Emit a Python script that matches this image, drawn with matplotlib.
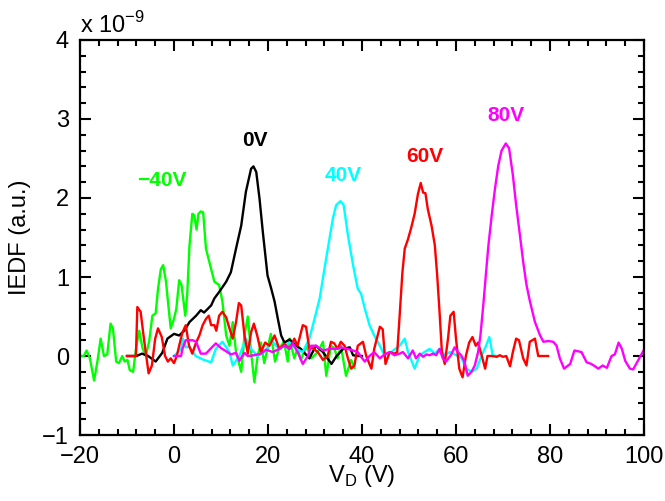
import numpy as np
import matplotlib.pyplot as plt
from matplotlib.ticker import MultipleLocator

plt.rcParams['font.family'] = ['Liberation Sans', 'DejaVu Sans']
plt.rcParams['mathtext.fontset'] = 'custom'
plt.rcParams['mathtext.rm'] = 'Liberation Sans'

# IEDF curves, y in units of 1e-9
x_m40 = [-20, -19.2, -18.6, -17.9, -17.0, -16.3, -15.6, -14.9, -14.2, -13.5, -13.0, -12.3, -11.7, -11.0,
         -10.5, -9.9, -9.4, -8.7, -8.0, -7.4, -6.7, -6.0, -5.3, -4.6, -3.9, -3.4, -2.8, -2.3, -1.7, -1.2,
         -0.7, 0.0, 0.5, 1.1, 1.6, 2.4, 2.8, 3.3, 3.9, 4.3, 4.8, 5.2, 5.7, 6.2, 6.8, 7.9, 8.6, 9.6, 10.3,
         11.1, 11.8, 12.5, 13.2, 14.3, 15.0, 15.7, 16.4, 17.1, 17.8, 18.5, 19.2, 20.6, 21.5, 22.4, 23.4,
         24.2, 24.6, 25.6, 26.3, 27.0, 28.2, 29.2, 30.6, 31.7, 32.4, 33.4, 34.1, 34.8, 35.5, 36.6, 37.7, 38.4]
y_m40 = [0, 0, 0.07, -0.03, -0.31, -0.07, 0.22, 0, 0.02, 0.41, 0.35, -0.07, -0.09, 0, -0.07, -0.05,
         -0.18, -0.2, 0.13, 0.32, 0.1, 0, 0.18, 0.51, 0.54, 0.85, 1.1, 1.15, 0.94, 0.64, 0.35, 0.47, 0.6,
         0.96, 0.9, 0.51, 0.77, 1.4, 1.8, 1.78, 1.6, 1.8, 1.83, 1.82, 1.36, 1.1, 0.94, 0.9, 0.69, 0.26,
         0.13, 0.43, 0.05, -0.2, 0.26, 0.5, 0.05, -0.33, 0.0, 0.17, -0.09, 0.28, -0.07, 0.1, 0.18, -0.07,
         0.22, -0.03, 0.1, -0.05, 0.13, -0.03, 0.05, 0.18, -0.25, 0.13, 0.1, -0.03, 0.13, -0.25, -0.05, -0.15]

x_0 = [-10, -8.0, -6.8, -5.5, -3.9, -2.5, -1.4, 0.0, 1.1, 2.2, 3.3, 4.7, 5.7, 6.4, 7.9, 8.6, 9.6, 11.1,
       12.1, 13.2, 14.3, 15.3, 16.4, 16.9, 17.5, 18.2, 18.9, 19.9, 20.7, 21.4, 22.1, 22.8, 23.5, 24.6,
       26.0, 27.0, 28.8, 30.2, 31.7, 33.5, 34.6, 36.0, 37.4, 38.1, 39.1, 40]
y_0 = [0, 0, 0.03, 0.0, -0.07, 0.04, 0.22, 0.28, 0.26, 0.32, 0.43, 0.51, 0.58, 0.55, 0.64, 0.73, 0.81,
       0.94, 1.06, 1.36, 1.65, 2.08, 2.37, 2.4, 2.33, 1.99, 1.57, 1.02, 0.85, 0.69, 0.47, 0.26, 0.17,
       0.21, 0.13, 0.09, -0.03, 0.13, 0.05, -0.1, 0.0, 0.09, 0.11, 0.01, 0.0, 0.0]

x_40 = [0, 1.5, 1.9, 2.5, 3.3, 4.6, 6.4, 7.9, 8.9, 10.3, 11.8, 12.5, 13.9, 15.3, 16.4, 17.8, 19.2, 21.0,
        22.4, 24.6, 26.0, 27.4, 28.8, 29.9, 31.0, 32.0, 33.1, 33.8, 34.5, 35.4, 36.1, 37.0, 38.1, 39.1,
        39.8, 40.6, 41.6, 42.6, 43.8, 44.8, 46.2, 48.0, 49.1, 49.8, 51.2, 52.3, 53.3, 54.4, 55.5, 56.5,
        57.6, 58.7, 60.1, 61.2, 62.2, 63.3, 64.4, 65.5, 66.4, 67.1, 67.8, 68.6]
y_40 = [0, 0.09, 0.22, 0.11, 0.12, 0.0, -0.05, -0.08, 0.09, 0.18, 0.05, -0.12, 0.0, 0.22, 0.09, 0.0,
        0.05, 0.18, 0.09, 0.17, 0.09, 0.05, 0.22, 0.47, 0.73, 1.1, 1.49, 1.74, 1.91, 1.96, 1.91, 1.53,
        1.15, 0.85, 0.79, 0.6, 0.39, 0.26, 0.13, 0.01, 0.05, 0.13, 0.22, 0.05, -0.16, 0.01, 0.05, 0.09,
        0.03, 0.09, 0.01, 0.05, 0.01, -0.03, -0.16, -0.2, -0.16, 0.01, 0.13, 0.24, 0.01, 0.0]

x_60 = [-10, -8.1, -7.8, -7.1, -6.4, -5.4, -4.7, -4.0, -3.4, -2.6, -1.9, -1.3, -0.7, 0.0, 0.6, 1.1, 1.8,
        2.5, 3.2, 3.9, 4.7, 5.4, 6.1, 6.8, 7.4, 7.9, 8.6, 9.0, 9.6, 10.3, 11.1, 11.8, 12.5, 13.2, 13.8,
        14.3, 15.0, 15.7, 16.4, 17.0, 17.7, 18.5, 19.4, 20.3, 21.4, 22.4, 23.5, 24.6, 25.6, 26.3, 27.4,
        28.1, 28.8, 29.5, 30.6, 31.7, 32.7, 33.4, 34.1, 34.8, 35.5, 36.3, 37.0, 37.7, 38.4, 39.1, 40.2,
        40.9, 42.0, 42.6, 43.8, 44.4, 45.0, 45.9, 46.9, 47.5, 48.0, 48.6, 49.1, 49.8, 50.5, 51.2, 51.9,
        52.5, 53.0, 53.5, 54.0, 54.8, 55.5, 56.0, 56.5, 57.0, 57.6, 58.3, 58.8, 59.5, 60.0, 60.7, 61.4,
        62.1, 62.8, 63.5, 64.2, 64.7, 65.5, 66.2, 66.7, 67.6, 68.7, 69.3, 70.0, 70.7, 71.5, 72.1, 72.8,
        73.4, 74.3, 75.0, 75.7, 76.8, 77.5, 79.6]
y_60 = [0, 0, 0.62, 0.56, 0.22, -0.22, -0.12, 0.22, 0.35, 0.24, 0.0, -0.07, -0.03, -0.09, 0.0, 0.13,
        0.3, 0.39, 0.13, 0.03, 0.17, 0.26, 0.39, 0.47, 0.51, 0.39, 0.39, 0.32, 0.51, 0.56, 0.49, 0.35,
        0.22, 0.43, 0.67, 0.64, 0.26, 0.03, 0.3, 0.41, 0.26, 0.05, 0.17, 0.13, 0.26, 0.09, 0.15, 0.09,
        0.22, 0.13, 0.39, 0.37, 0.09, 0.1, 0.05, -0.05, 0.0, 0.18, 0.16, 0.09, 0.18, 0.13, -0.03, -0.16,
        -0.12, 0.13, 0.18, 0.0, -0.16, 0.09, 0.37, 0.34, -0.1, 0.05, 0.03, 0.05, 0.5, 1.06, 1.36, 1.48,
        1.63, 1.8, 2.05, 2.19, 2.07, 2.06, 1.86, 1.65, 1.4, 1.02, 0.56, 0.05, -0.1, 0.22, 0.51, 0.56,
        0.22, -0.16, -0.27, 0.0, 0.17, 0.24, 0.13, 0.17, 0.0, -0.16, 0.0, 0.0, -0.01, 0.01, -0.01, 0.0,
        -0.13, 0.05, 0.22, 0.2, -0.03, -0.12, 0.18, 0.22, 0.0, 0.0]

x_80 = [0, 1.5, 1.8, 2.5, 4.0, 4.7, 5.7, 6.8, 7.9, 8.9, 10.0, 11.1, 12.1, 13.2, 13.9, 15.0, 15.7, 17.1,
        18.5, 19.6, 21.0, 22.4, 23.5, 24.6, 25.3, 26.3, 27.4, 28.5, 29.2, 30.2, 31.7, 33.1, 34.5, 35.5,
        37.0, 38.1, 39.1, 39.8, 40.6, 41.6, 42.6, 43.8, 44.8, 45.9, 46.9, 48.0, 48.7, 49.8, 50.8, 51.5,
        52.3, 53.0, 53.7, 54.4, 55.1, 55.8, 56.5, 57.2, 57.9, 59.0, 59.7, 60.4, 61.1, 61.8, 62.5, 63.3,
        64.0, 64.7, 65.2, 65.8, 66.4, 66.9, 67.6, 68.3, 69.0, 69.7, 70.6, 71.3, 72.1, 72.8, 73.6, 74.3,
        75.0, 75.7, 76.8, 77.9, 78.6, 79.6, 80.7, 81.4, 82.1, 83.0, 84.3, 85.2, 86.7, 87.8, 88.8, 90.3,
        91.2, 92.1, 93.1, 93.8, 94.6, 95.3, 96.0, 97.0, 97.7, 98.8, 100]
y_80 = [0, 0, 0.09, 0.2, 0.2, 0.18, 0.03, 0.03, 0.1, 0.16, 0.1, 0.06, 0.02, 0.04, -0.06, 0.04, 0.0,
        0.01, 0.03, 0.08, 0.05, 0.09, 0.13, 0.09, 0.16, 0.05, -0.1, 0.0, 0.13, 0.13, 0.07, 0.09, 0.09,
        0.11, 0.09, 0.07, 0.05, -0.01, -0.07, 0.0, 0.05, -0.03, 0.02, 0.05, 0.01, 0.03, 0.05, -0.03,
        0.07, -0.03, 0.03, -0.01, 0.02, 0.01, 0.03, 0.01, 0.09, -0.03, -0.07, 0.02, 0.11, 0.05, 0.01,
        -0.07, -0.25, -0.2, -0.12, 0.05, 0.26, 0.64, 1.06, 1.4, 1.78, 2.12, 2.41, 2.6, 2.69, 2.63, 2.29,
        1.91, 1.53, 1.19, 0.9, 0.7, 0.43, 0.26, 0.18, 0.19, 0.18, 0.13, -0.03, -0.16, -0.1, 0.07, 0.05,
        -0.08, -0.1, -0.16, -0.12, -0.15, 0.0, 0.02, 0.17, 0.09, -0.06, -0.16, -0.17, -0.05, 0.08]

series = [(x_m40, y_m40, '#00ff00'), (x_0, y_0, 'black'), (x_40, y_40, '#00ffff'),
          (x_60, y_60, '#ff0000'), (x_80, y_80, '#ff00ff')]

labels = ['\u221240V', '0V', '40V', '60V', '80V']
label_x = [-2.5, 17.2, 36.1, 53.3, 70.7]
label_y = [2.22, 2.73, 2.29, 2.52, 3.05]

fig = plt.figure(figsize=(6.65, 5.01), dpi=100)
ax = fig.add_axes([0.1203, 0.1317, 0.8481, 0.7885])

for xs, ys, c in series:
    ax.plot(xs, ys, color=c, lw=1.7)

for t, lx, ly, (xs, ys, c) in zip(labels, label_x, label_y, series):
    ax.text(lx, ly, t, color=c, fontsize=15, fontweight='bold', ha='center', va='center')

ax.set_xlim(-20, 100)
ax.set_ylim(-1, 4)
ax.xaxis.set_major_locator(MultipleLocator(20))
ax.xaxis.set_minor_locator(MultipleLocator(4))
ax.yaxis.set_major_locator(MultipleLocator(1))
ax.yaxis.set_minor_locator(MultipleLocator(0.2))
ax.tick_params(which='both', direction='in', top=True, right=True, width=1.5, labelsize=17)
ax.tick_params(which='major', length=8, pad=8)
ax.tick_params(which='minor', length=4)
for s in ax.spines.values():
    s.set_linewidth(1.6)

ax.set_xlabel(r'V$_\mathregular{D}$ (V)', fontsize=17, labelpad=-4)
ax.set_ylabel('IEDF (a.u.)', fontsize=17, labelpad=8)
ax.text(0.0, 1.005, r'x 10$^{\mathregular{-9}}$', transform=ax.transAxes,
        fontsize=17, ha='left', va='bottom')

fig.savefig('out.png', dpi=100)
